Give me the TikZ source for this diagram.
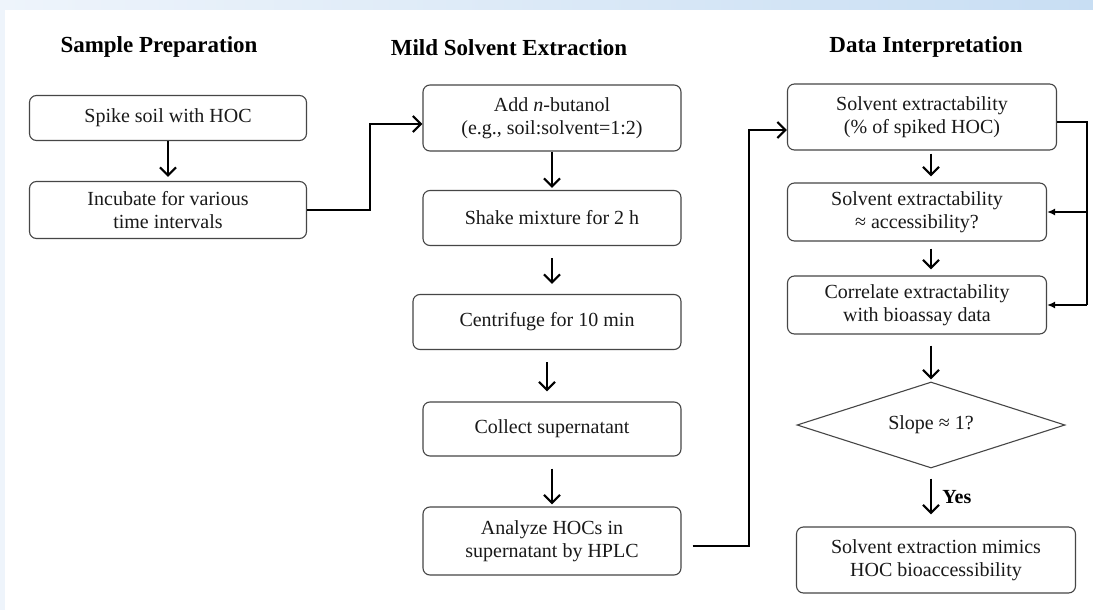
\documentclass[tikz,border=0pt]{standalone}
\usepackage{fontspec}
\setmainfont{Liberation Serif}
\usetikzlibrary{arrows.meta,shapes.geometric}

\definecolor{bandlight}{RGB}{238,244,251}
\definecolor{banddark}{RGB}{200,222,243}
\definecolor{boxline}{RGB}{70,70,70}

\begin{document}
\begin{tikzpicture}[x=1pt,y=-1pt,
   box/.style={draw=boxline, line width=1.1pt, rounded corners=7pt, align=center,
      text=black!90, font=\fontsize{20}{23}\selectfont, inner sep=0pt},
   decision/.style={box, diamond, rounded corners=0pt, aspect=3},
   heading/.style={font=\fontsize{23}{26}\selectfont\bfseries},
   flow/.style={draw, line width=2.2pt, -{Straight Barb[length=8pt,width=16pt]}},
   feed/.style={draw, line width=2.2pt, -{Latex[length=8pt,width=7pt]}}]
   % frame of the screenshot
   \useasboundingbox (0,0) rectangle (1093,610);
   \fill[bandlight] (0,0) rectangle (1093,610);
   \shade[left color=bandlight, right color=banddark] (0,0) rectangle (1093,10);
   \fill[white] (5,10) rectangle (1093,610);
   % column headings
   \node[heading] (hprep) at (159,47) {Sample Preparation};
   \node[heading] (hmild) at (509,48) {Mild Solvent Extraction};
   \node[heading] (hdata) at (926,47) {Data Interpretation};
   \def \Boxes {
      spike/168/118/277/45/{Spike soil with HOC},
      incub/168/210/277/57/{Incubate for various\\time intervals},
      butanol/552/118/258/66/{Add \emph{n}-butanol\\(e.g., soil:solvent=1:2)},
      shake/552/218/258/55/{Shake mixture for 2 h},
      centri/547/322/268/55/{Centrifuge for 10 min},
      collect/552/429/258/54/{Collect supernatant},
      analyze/552/541/258/68/{Analyze HOCs in\\supernatant by HPLC},
      extract/922/117/269/66/{Solvent extractability\\(\% of spiked HOC)},
      access/917/212/259/58/{Solvent extractability\\≈ accessibility?},
      correl/917/305/259/58/{Correlate extractability\\with bioassay data},
      mimic/936/560/279/66/{Solvent extraction mimics\\HOC bioaccessibility}}
   \foreach \n / \x / \y / \bw / \bh / \t in \Boxes {
      \node[box, minimum width=\bw, minimum height=\bh] (\n) at (\x, \y) {\t};
   }
   \node[decision, minimum width=268, minimum height=86] (slope) at (931,425) {Slope ≈ 1?};
   % straight steps down the columns
   \def \Steps {
      spike/incub/0/4,
      butanol/shake/0/2,
      shake/centri/12/10,
      centri/collect/12/10,
      collect/analyze/12/2}
   \foreach \u / \v / \a / \b in \Steps {
      \path[flow, shorten <=\a, shorten >=\b] (\u.south -| \u.center) -- (\u.south |- \v.north);
   }
   \def \Checks {
      extract/access/3/6,
      access/correl/7/6,
      correl/slope/11/2}
   \foreach \u / \v / \a / \b in \Checks {
      \path[flow, shorten <=\a, shorten >=\b] (\u.south -| slope.center) -- (\v.north -| slope.center);
   }
   \path[flow, shorten <=10, shorten >=12] (slope.south) -- node[right, font=\fontsize{20}{23}\selectfont\bfseries, xshift=7pt] {Yes} (mimic.north -| slope.center);
   % links between the columns
   \coordinate (turnA) at (370,0);
   \coordinate (turnB) at (749,0);
   \coordinate (outB) at ([xshift=11pt,yshift=-5pt]analyze.east);
   \path[flow] (incub.east) -- (incub.east -| turnA) |- ([yshift=-6pt]butanol.west);
   \path[flow] (outB) -- (outB -| turnB) |- ([yshift=-13pt]extract.west);
   % feedback on the right
   \path[draw, line width=2.2pt] ([yshift=-5pt]extract.east) -- ++(30,0) coordinate (turnC) -- (turnC |- correl.east);
   \path[feed] (turnC |- access.east) -- (access.east);
   \path[feed] (turnC |- correl.east) -- (correl.east);
\end{tikzpicture}
\end{document}
